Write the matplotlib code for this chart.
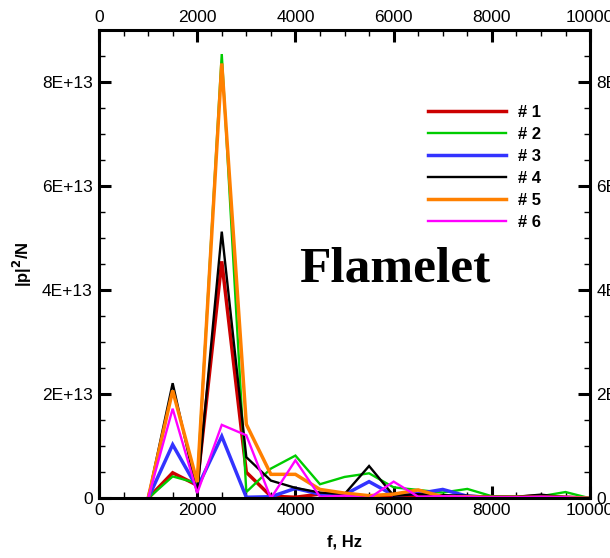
import numpy as np
import matplotlib
matplotlib.use('Agg')
from matplotlib import pyplot as plt
from matplotlib.ticker import MultipleLocator, FuncFormatter

# frequency grid (Hz) and |p|^2/N spectra, in units of 1E+13
freq = np.arange(1000, 10001, 500)
p1 = [0, 0.49, 0.25, 4.55, 0.50, 0.04, 0.02, 0.08, 0.03, 0.02, 0.03, 0.03, 0.02, 0.03, 0.02, 0.02, 0.05, 0.02, 0.0]
p2 = [0, 0.42, 0.29, 8.53, 0.12, 0.57, 0.82, 0.27, 0.41, 0.48, 0.21, 0.16, 0.11, 0.18, 0.04, 0.03, 0.04, 0.12, 0.0]
p3 = [0, 1.03, 0.20, 1.19, 0.02, 0.03, 0.19, 0.08, 0.07, 0.32, 0.06, 0.09, 0.17, 0.04, 0.02, 0.02, 0.03, 0.02, 0.0]
p4 = [0, 2.21, 0.10, 5.12, 0.79, 0.34, 0.20, 0.11, 0.08, 0.62, 0.05, 0.08, 0.06, 0.05, 0.03, 0.03, 0.07, 0.02, 0.0]
p5 = [0, 2.07, 0.31, 8.35, 1.42, 0.46, 0.46, 0.17, 0.10, 0.05, 0.08, 0.16, 0.03, 0.03, 0.02, 0.02, 0.02, 0.02, 0.0]
p6 = [0, 1.72, 0.10, 1.41, 1.21, 0.0, 0.73, 0.03, 0.05, 0.0, 0.32, 0.03, 0.04, 0.03, 0.02, 0.02, 0.03, 0.02, 0.0]

labels = ['# 1', '# 2', '# 3', '# 4', '# 5', '# 6']
colors = ['#cc0000', '#00cc00', '#3333ff', '#000000', '#ff8000', '#ff00ff']
widths = [2.5, 1.7, 2.5, 1.7, 2.5, 1.7]

plt.rcParams['font.family'] = ['Liberation Sans', 'DejaVu Sans']

fig = plt.figure(figsize=(6.1, 5.58), dpi=100)
ax = fig.add_axes([0.1623, 0.107, 0.805, 0.840])

for vals, lab, c, w in zip([p1, p2, p3, p4, p5, p6], labels, colors, widths):
    ax.plot(freq, np.array(vals) * 1e13, color=c, lw=w, label=lab,
            solid_joinstyle='miter')

ax.set_xlim(0, 10000)
ax.set_ylim(0, 9e13)

ax.xaxis.set_major_locator(MultipleLocator(2000))
ax.xaxis.set_minor_locator(MultipleLocator(500))
ax.yaxis.set_major_locator(MultipleLocator(2e13))
ax.yaxis.set_minor_locator(MultipleLocator(0.5e13))
ax.yaxis.set_major_formatter(FuncFormatter(
    lambda v, pos: '0' if v == 0 else '%dE+13' % round(v / 1e13)))

ax.tick_params(which='both', direction='in', top=True, right=True,
               labeltop=True, labelright=True, labelsize=12.5)
ax.tick_params(which='major', length=8.5, width=2.2)
ax.tick_params(which='minor', length=4.3, width=1.0)
ax.tick_params(axis='x', which='major', pad=3.5)
ax.tick_params(axis='y', which='major', pad=4.5)
for s in ax.spines.values():
    s.set_linewidth(2.2)

ax.set_xlabel('f, Hz', fontsize=12, fontweight='bold', labelpad=12)
ax.set_ylabel(r'|p|$^\mathbf{2}$/N', fontsize=12, fontweight='bold', labelpad=6)

ax.legend(loc='upper left', bbox_to_anchor=(0.669, 0.840), frameon=False,
          prop={'weight': 'bold', 'size': 12}, handlelength=4.7,
          handletextpad=0.7, labelspacing=0.42, borderpad=0, borderaxespad=0)

ax.text(0.602, 0.463, 'Flamelet', transform=ax.transAxes, ha='center',
        va='baseline', fontsize=37, fontweight='bold', family='Liberation Serif')

fig.savefig('out.png', dpi=100)
